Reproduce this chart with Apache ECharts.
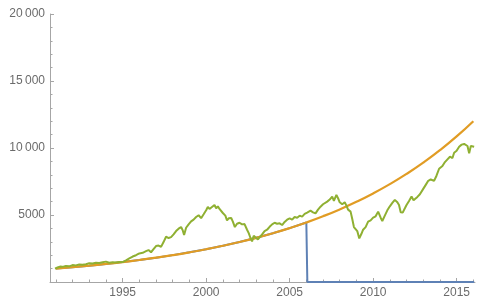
<!DOCTYPE html>
<html>
<head>
  <meta charset="utf-8">
  <title>Growth chart</title>
  <script src="https://cdn.jsdelivr.net/npm/echarts@6/dist/echarts.min.js"></script>
  <style>
    html, body { margin: 0; padding: 0; background: #fff; }
  </style>
</head>
<body>
  <div id="container" style="width: 480px; height: 300px"></div>
  <script>
    // tick positions
    var majorYears = [1995, 2000, 2005, 2010, 2015];
    var minorYears = [1991, 1992, 1993, 1994, 1995, 1996, 1997, 1998, 1999, 2000, 2001, 2002, 2003,
      2004, 2005, 2006, 2007, 2008, 2009, 2010, 2011, 2012, 2013, 2014, 2015, 2016];

    var curveYears = [1991, 1992, 1993, 1994, 1995, 1996, 1997, 1998, 1999, 2000, 2001, 2002, 2003,
      2004, 2005, 2006, 2007, 2008, 2009, 2010, 2011, 2012, 2013, 2014, 2015, 2016];
    var curveValues = [1000, 1105, 1220, 1347, 1488, 1644, 1815, 2005, 2215, 2446, 2702, 2984, 3296,
      3641, 4021, 4441, 4906, 5418, 5985, 6610, 7301, 8064, 8907, 9838, 10866, 12002];

    // blue: follows the curve, then drops to zero
    var blueYears = [1991, 1992, 1993, 1994, 1995, 1996, 1997, 1998, 1999, 2000, 2001, 2002, 2003,
      2004, 2005, 2006, 2006.06, 2006.06, 2016.05];
    var blueValues = [1000, 1105, 1220, 1347, 1488, 1644, 1815, 2005, 2215, 2446, 2702, 2984, 3296,
      3641, 4021, 4441, 4470, 0, 0];

    // green index
    var greenYears = [1990.95, 1991.1, 1991.25, 1991.4, 1991.6, 1991.8, 1992.0, 1992.2, 1992.4, 1992.6, 1992.8,
      1993.0, 1993.2, 1993.4, 1993.6, 1993.8, 1994.0, 1994.2, 1994.4, 1994.6, 1994.8,
      1995.0, 1995.2, 1995.4, 1995.6, 1995.8, 1996.0, 1996.2, 1996.4, 1996.55, 1996.7, 1996.85,
      1997.0, 1997.15, 1997.3, 1997.45, 1997.6, 1997.75, 1997.9, 1998.05, 1998.2, 1998.35, 1998.5,
      1998.6, 1998.68, 1998.8, 1998.95, 1999.1, 1999.25, 1999.4, 1999.55, 1999.7, 1999.85,
      2000.0, 2000.1, 2000.2, 2000.35, 2000.5, 2000.6, 2000.7, 2000.8, 2000.9, 2001.0, 2001.15,
      2001.25, 2001.35, 2001.5, 2001.6, 2001.72, 2001.85, 2002.0, 2002.15, 2002.3, 2002.45,
      2002.55, 2002.65, 2002.75, 2002.85, 2002.95, 2003.1, 2003.2, 2003.35, 2003.5, 2003.65,
      2003.8, 2003.95, 2004.1, 2004.25, 2004.4, 2004.55, 2004.7, 2004.85, 2005.0, 2005.15,
      2005.3, 2005.45, 2005.6, 2005.75, 2005.9, 2006.05, 2006.25, 2006.4, 2006.55, 2006.7,
      2006.85, 2007.0, 2007.1, 2007.25, 2007.4, 2007.55, 2007.65, 2007.8, 2007.9, 2008.0,
      2008.15, 2008.3, 2008.4, 2008.5, 2008.65, 2008.75, 2008.85, 2008.95, 2009.05, 2009.17,
      2009.3, 2009.4, 2009.55, 2009.7, 2009.85, 2010.0, 2010.15, 2010.3, 2010.45, 2010.55,
      2010.7, 2010.85, 2011.0, 2011.15, 2011.3, 2011.45, 2011.55, 2011.65, 2011.77, 2011.9,
      2012.0, 2012.15, 2012.3, 2012.42, 2012.5, 2012.65, 2012.8, 2012.9, 2013.0, 2013.15,
      2013.3, 2013.45, 2013.55, 2013.65, 2013.8, 2013.95, 2014.05, 2014.15, 2014.3, 2014.45,
      2014.6, 2014.75, 2014.85, 2015.0, 2015.15, 2015.3, 2015.45, 2015.55, 2015.65, 2015.75,
      2015.85, 2015.95, 2016.05];
    var greenValues = [1000, 1080, 1150, 1130, 1190, 1170, 1260, 1240, 1300, 1280, 1330,
      1400, 1380, 1430, 1420, 1480, 1520, 1440, 1470, 1450, 1500,
      1490, 1620, 1760, 1900, 2000, 2130, 2180, 2300, 2380, 2220, 2450,
      2680, 2720, 2620, 2980, 3380, 3280, 3350, 3550, 3800, 3980, 4100,
      3850, 3500, 4050, 4300, 4520, 4650, 4850, 4980, 4760, 5050,
      5350, 5600, 5450, 5600, 5750, 5500, 5650, 5450, 5520, 5150, 4950,
      4600, 4750, 4780, 4500, 4100, 4350, 4420, 4300, 4320, 3900,
      3650, 3300, 3030, 3450, 3400, 3180, 3250, 3550, 3800, 3900,
      4120, 4300, 4420, 4350, 4380, 4250, 4480, 4650, 4750, 4650,
      4850, 4800, 4950, 4880, 5080, 5180, 5320, 5200, 5120, 5400,
      5620, 5800, 5700, 6000, 6150, 6380, 6050, 6500, 6250, 5950,
      5800, 5950, 5700, 5400, 5250, 4700, 4100, 4200, 3800, 3250,
      3600, 3900, 4100, 4500, 4600, 4800, 4900, 5250, 4800, 4550,
      4950, 5350, 5650, 5900, 6130, 5950, 5750, 5200, 5180, 5500,
      5750, 6050, 6380, 6100, 6000, 6350, 6550, 6500, 6950, 7250,
      7550, 7650, 7750, 7550, 7950, 8450, 8400, 8650, 8950, 9150,
      9350, 9250, 9650, 9800, 10100, 10250, 10300, 10350, 10150, 9600,
      10150, 10250, 10100];

    function pairs(xs, ys) {
      return xs.map(function (x, i) { return [x, ys[i]]; });
    }

    var axisGray = '#a6a6a6';
    var labelGray = '#6b6b6b';
    var font = 'Liberation Sans, Arial, sans-serif';

    var chart = echarts.init(document.getElementById('container'), null, { renderer: 'canvas' });
    var option = {
      animation: false,
      backgroundColor: '#ffffff',
      grid: { left: 50, right: 5, top: 14, bottom: 18, containLabel: false, outerBoundsMode: 'none' },
      xAxis: [
        {
          type: 'value',
          position: 'bottom',
          min: 1990.65,
          max: 2016.1,
          splitLine: { show: false },
          axisLine: { onZero: false, lineStyle: { color: axisGray, width: 1 } },
          axisTick: { inside: true, length: 4, customValues: majorYears, lineStyle: { color: axisGray } },
          axisLabel: {
            customValues: majorYears,
            color: labelGray,
            fontSize: 12,
            fontFamily: font,
            margin: 5,
            formatter: function (v) { return String(Math.round(v)); }
          }
        },
        {
          type: 'value',
          position: 'bottom',
          offset: 0,
          min: 1990.65,
          max: 2016.1,
          splitLine: { show: false },
          axisLine: { show: false },
          axisTick: { inside: true, length: 2.5, customValues: minorYears, lineStyle: { color: axisGray } },
          axisLabel: { show: false }
        }
      ],
      yAxis: {
        type: 'value',
        min: 0,
        max: 20000,
        interval: 5000,
        splitLine: { show: false },
        axisLine: { show: true, lineStyle: { color: axisGray, width: 1 } },
        axisTick: { inside: true, length: 4, lineStyle: { color: axisGray } },
        minorTick: { show: true, splitNumber: 5, length: 2.5, lineStyle: { color: axisGray } },
        axisLabel: {
          color: labelGray,
          fontSize: 12,
          fontFamily: font,
          margin: 5,
          formatter: function (v) {
            if (v === 0) return '';
            if (v >= 10000) return Math.floor(v / 1000) + '\u2009' + String(v % 1000).padStart(3, '0');
            return String(v);
          }
        }
      },
      series: [
        {
          type: 'line',
          data: pairs(blueYears, blueValues),
          showSymbol: false,
          clip: false,
          lineStyle: { color: '#5E81B5', width: 2 }
        },
        {
          type: 'line',
          data: pairs(curveYears, curveValues),
          showSymbol: false,
          smooth: true,
          lineStyle: { color: '#E19C24', width: 2.2 }
        },
        {
          type: 'line',
          data: pairs(greenYears, greenValues),
          showSymbol: false,
          lineStyle: { color: '#8FB032', width: 2 }
        }
      ]
    };
    chart.setOption(option);
  </script>
</body>
</html>
